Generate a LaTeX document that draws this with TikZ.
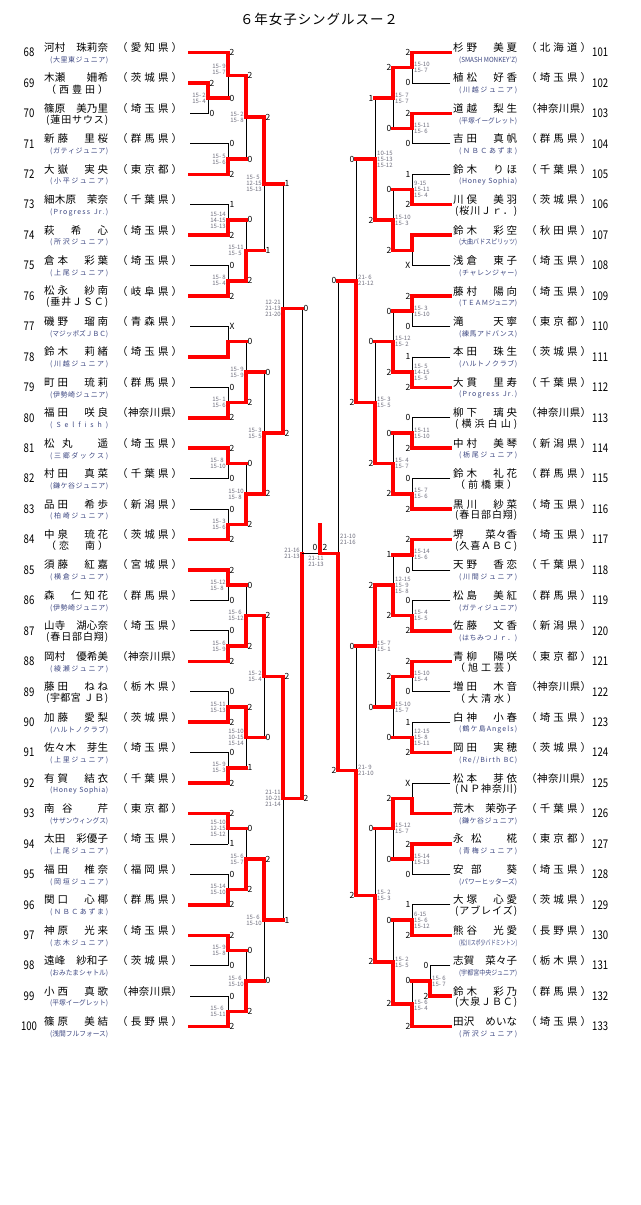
\documentclass[tikz,border=0pt]{standalone}
\usepackage{fontspec}
\usepackage{graphicx}
\setmainfont{Noto Sans CJK JP}
\usetikzlibrary{calc}

\definecolor{clubblue}{RGB}{62,72,130}
\definecolor{scogray}{RGB}{110,110,125}

\makeatletter
\protected\def\hsp{\ }
\newcommand\spreadtext[2]{\edef\spread@arg{#2}\makebox[#1][s]{\expandafter\spread@first\spread@arg\relax}}
\def\spread@first#1{\ifx\relax#1\else#1\expandafter\spread@next\fi}
\def\spread@next#1{\ifx\relax#1\else\hfill#1\expandafter\spread@next\fi}
\makeatother
\newsavebox\fitbox
\newcommand\spreadfit[2]{\sbox\fitbox{#2}\ifdim\wd\fitbox>#1\relax\resizebox{#1}{\height}{\usebox\fitbox}\else\spreadtext{#1}{#2}\fi}

\newcommand\drawbout[9]{%
  \draw[lose] (#2 -| #1) -- (#5 -| #1);
  \draw[v#3] (#2 -| #1) -- (#1);
  \draw[v#6] (#5 -| #1) -- (#1);
  \draw[h#3] (#2) -- (#2 -| #1);
  \draw[h#6] (#5) -- (#5 -| #1);
  \node[lab#9] (#1-a) at (#2 -| #1) {#4};
  \node[lab#9] (#1-b) at (#5 -| #1) {#7};
  \node[sco#9] (#1-s) at (#1) {#8};
}

\begin{document}
\begin{tikzpicture}[x=1pt,y=-1pt]
\tikzset{win/.style={draw=red, line width=3.5pt, line cap=rect},
  lose/.style={draw=black, line width=0.8pt, line cap=rect},
  hW/.style=win, hR/.style=win, hB/.style=lose,
  vW/.style=win, vR/.style={draw=none}, vB/.style={draw=none},
  labL/.style={anchor=west, xshift=1.5pt, inner sep=0pt, font=\fontsize{8.5}{9}\selectfont},
  labR/.style={anchor=east, xshift=-1.5pt, inner sep=0pt, font=\fontsize{8.5}{9}\selectfont},
  scoL/.style={anchor=east, xshift=-2pt, inner sep=0pt, align=left, text=scogray, font=\fontsize{6}{6}\selectfont},
  scoR/.style={anchor=west, xshift=2pt, inner sep=0pt, align=left, text=scogray, font=\fontsize{6}{6}\selectfont},
  pnum/.style={inner sep=0pt, font=\fontsize{12}{12}\selectfont},
  pname/.style={anchor=west, inner sep=0pt, yshift=5pt, font=\fontsize{10.5}{11}\selectfont},
  clubs/.style={anchor=west, inner sep=0pt, xshift=6pt, yshift=-7.5pt, text=clubblue, font=\fontsize{7}{7}\selectfont},
  clubb/.style={anchor=west, inner sep=0pt, xshift=2pt, yshift=-6.5pt, font=\fontsize{10}{10}\selectfont},
  headline/.style={font=\fontsize{13.5}{14}\selectfont}}

\fill[white] (0,0) rectangle (640,1205);
\useasboundingbox (0,0) rectangle (640,1205);

\foreach \nm/\xx in {xLp/208, xL1/228, xL2/246, xL3/264, xL4/283, xL5/302, xF/320,
  xR5/338, xR4/356, xR3/375, xR2/393, xR1/412, xRp/430}
  \coordinate (\nm) at (\xx,0);

\node[headline] (head) at (319,19) {\spreadtext{158pt}{６年女子シングルスー２}};

\foreach \n/\nm/\pf/\cl/\ct in {
  68/河村　珠莉奈/愛知県/(大里東ジュニア)/s, 69/木瀬　　姍希/茨城県/（西豊田）/b,
  70/篠原　美乃里/埼玉県/(蓮田サウス)/b, 71/新藤　里桜/群馬県/(ガティジュニア)/s,
  72/大嶽　実央/東京都/(小平ジュニア)/s, 73/細木原　茉奈/千葉県/(Progress\hsp Jr.)/s,
  74/萩　希　心/埼玉県/(所沢ジュニア)/s, 75/倉本　彩葉/埼玉県/(上尾ジュニア)/s,
  76/松永　紗南/岐阜県/(垂井ＪＳＣ)/b, 77/磯野　瑠南/青森県/(マジッポズＪＢＣ)/s,
  78/鈴木　莉緒/埼玉県/(川越ジュニア)/s, 79/町田　琉莉/群馬県/(伊勢崎ジュニア)/s,
  80/福田　咲良/神奈川県/(Selfish)/s, 81/松丸　遥/埼玉県/(三郷ダックス)/s,
  82/村田　真菜/千葉県/(鎌ケ谷ジュニア)/s, 83/品田　希歩/新潟県/(柏崎ジュニア)/s,
  84/中泉　琉花/茨城県/（恋　南）/b, 85/須藤　紅嘉/宮城県/(横倉ジュニア)/s,
  86/森　仁知花/群馬県/(伊勢崎ジュニア)/s, 87/山寺　湖心奈/埼玉県/(春日部白翔)/b,
  88/岡村　優希美/神奈川県/(綾瀬ジュニア)/s, 89/藤田　ねね/栃木県/(宇都宮\hsp ＪＢ)/b,
  90/加藤　愛梨/茨城県/(ハルトノクラブ)/s, 91/佐々木　芽生/埼玉県/(上里ジュニア)/s,
  92/有賀　結衣/千葉県/(Honey\hsp Sophia)/s, 93/南谷　芹/東京都/(サザンウィングス)/s,
  94/太田　彩優子/埼玉県/(上尾ジュニア)/s, 95/福田　椎奈/福岡県/(岡垣ジュニア)/s,
  96/関口　心椰/群馬県/(ＮＢＣあずま)/s, 97/神原　光来/埼玉県/(志木ジュニア)/s,
  98/遠峰　紗和子/茨城県/(おみたまシャトル)/s, 99/小西　真歌/神奈川県/(平塚イーグレット)/s,
  100/篠原　美結/長野県/(浅間フルフォース)/s}{
  \pgfmathsetmacro\yy{52.5+(\n-68)*30.44}
  \edef\clw{\if s\ct 58pt\else 62pt\fi}
  \coordinate (p\n) at (190,\yy);
  \node[pnum] (num\n) at (29,\yy) {\scalebox{0.8}[1]{\n}};
  \node[pname] (nm\n) at (44,\yy) {\spreadtext{64pt}{\nm}};
  \node[pname] (pf\n) at (117,\yy) {\spreadtext{65pt}{（\pf）}};
  \node[club\ct] (cl\n) at (44,\yy) {\spreadfit{\clw}{\cl}};
}

\foreach \n/\nm/\pf/\cl/\ct in {
  101/杉野　美夏/北海道/(SMASH\hsp MONKEY'Z)/s, 102/植松　好香/埼玉県/(川越ジュニア)/s,
  103/道越　梨生/神奈川県/(平塚イーグレット)/s, 104/吉田　真帆/群馬県/(ＮＢＣあずま)/s,
  105/鈴木　りほ/千葉県/(Honey\hsp Sophia)/s, 106/川俣　美羽/茨城県/(桜川Ｊｒ．)/b,
  107/鈴木　彩空/秋田県/(大曲バドスピリッツ)/s, 108/浅倉　東子/埼玉県/(チャレンジャー)/s,
  109/藤村　陽向/埼玉県/(ＴＥＡＭジュニア)/s, 110/滝　　天寧/東京都/(練馬アドバンス)/s,
  111/本田　珠生/茨城県/(ハルトノクラブ)/s, 112/大貫　里寿/千葉県/(Progress\hsp Jr.)/s,
  113/柳下　璃央/神奈川県/(横浜白山)/b, 114/中村　美琴/新潟県/(栃尾ジュニア)/s,
  115/鈴木　礼花/群馬県/（前橋東）/b, 116/黒川　紗菜/埼玉県/(春日部白翔)/b,
  117/堺　　菜々香/埼玉県/(久喜ＡＢＣ)/b, 118/天野　香恋/千葉県/(川間ジュニア)/s,
  119/松島　美紅/群馬県/(ガティジュニア)/s, 120/佐藤　文香/新潟県/(はちみつＪｒ．)/s,
  121/青柳　陽咲/東京都/（旭工芸）/b, 122/増田　木音/神奈川県/（大清水）/b,
  123/白神　小春/埼玉県/(鶴ケ島Angels)/s, 124/岡田　実穂/茨城県/{(Re//Birth\hsp BC)}/s,
  125/松本　芽依/神奈川県/(ＮＰ神奈川)/b, 126/荒木　茉弥子/千葉県/(鎌ケ谷ジュニア)/s,
  127/永松　椛/東京都/(青梅ジュニア)/s, 128/安部　葵/埼玉県/(パワーヒッターズ)/s,
  129/大塚　心愛/茨城県/(アブレイズ)/b, 130/熊谷　光愛/長野県/(松川スポ少バドミントン)/s,
  131/志賀　菜々子/栃木県/(宇都宮中央ジュニア)/s, 132/鈴木　彩乃/群馬県/(大泉ＪＢＣ)/b,
  133/田沢　めいな/埼玉県/(所沢ジュニア)/s}{
  \pgfmathsetmacro\yy{52.5+(\n-101)*30.44}
  \edef\clw{\if s\ct 58pt\else 62pt\fi}
  \coordinate (p\n) at (450,\yy);
  \node[pnum, anchor=west] (num\n) at (592,\yy) {\scalebox{0.8}[1]{\n}};
  \node[pname] (nm\n) at (453,\yy) {\spreadtext{64pt}{\nm}};
  \node[pname] (pf\n) at (526,\yy) {\spreadtext{65pt}{（\pf）}};
  \node[club\ct] (cl\n) at (453,\yy) {\spreadfit{\clw}{\cl}};
}

\foreach \mm/\cc/\ea/\ta/\la/\eb/\tb/\lb/\scr in {
  LaP/xLp/p69/W/2/p70/B/0/{15- 2\\15- 4},
  La1/xL1/p68/W/2/LaP/R/0/{},
  La2/xL1/p71/B/0/p72/W/2/{15- 5\\15- 6},
  La3/xL1/p73/B/1/p74/W/2/{15-14\\14-15\\15-13},
  La4/xL1/p75/B/0/p76/W/2/{15- 8\\15- 4},
  La5/xL1/p77/B/X/p78/W/{}/{},
  La6/xL1/p79/B/0/p80/W/2/{15- 1\\15- 6},
  La7/xL1/p81/W/2/p82/B/0/{15- 8\\15-10},
  La8/xL1/p83/B/0/p84/W/2/{15- 3\\15- 6},
  La9/xL1/p85/W/2/p86/B/0/{15-12\\15- 8},
  La10/xL1/p87/B/0/p88/W/2/{15- 6\\15- 9},
  La11/xL1/p89/B/0/p90/W/2/{15-11\\15-13},
  La12/xL1/p91/B/0/p92/W/2/{15- 9\\15- 3},
  La13/xL1/p93/W/2/p94/B/1/{15-10\\12-15\\15-12},
  La14/xL1/p95/B/0/p96/W/2/{15-14\\15-10},
  La15/xL1/p97/W/2/p98/B/0/{15- 9\\15- 8},
  La16/xL1/p99/B/0/p100/W/2/{15- 6\\15-11},
  Lb1/xL2/La1/W/2/La2/R/0/{15- 2\\15- 8},
  Lb2/xL2/La3/R/0/La4/W/2/{15-11\\15- 5},
  Lb3/xL2/La5/R/0/La6/W/2/{15- 9\\15- 9},
  Lb4/xL2/La7/R/0/La8/W/2/{15-10\\15- 8},
  Lb5/xL2/La9/R/0/La10/W/2/{15- 6\\15-12},
  Lb6/xL2/La11/W/2/La12/R/1/{15-10\\10-15\\15-14},
  Lb7/xL2/La13/R/0/La14/W/2/{15- 6\\15- 7},
  Lb8/xL2/La15/R/0/La16/W/2/{15- 6\\15-10},
  Lc1/xL3/Lb1/W/2/Lb2/R/1/{15- 5\\12-15\\15-13},
  Lc2/xL3/Lb3/R/0/Lb4/W/2/{15- 3\\15- 5},
  Lc3/xL3/Lb5/W/2/Lb6/R/0/{15- 2\\15- 4},
  Lc4/xL3/Lb7/W/2/Lb8/R/0/{15- 6\\15-10},
  Ld1/xL4/Lc1/R/1/Lc2/W/2/{12-21\\21-13\\21-20},
  Ld2/xL4/Lc3/W/2/Lc4/R/1/{21-11\\10-21\\21-14},
  Le1/xL5/Ld1/R/0/Ld2/W/2/{21-16\\21-13}}{
  \coordinate (t) at ($(\ea)!.5!(\eb)$);
  \coordinate (\mm) at (t -| \cc);
  \edef\doit{\noexpand\drawbout{\mm}{\ea}{\ta}{\la}{\eb}{\tb}{\lb}{\unexpanded\expandafter{\scr}}{L}}\doit
}
\node[scoL, yshift=5.5pt] (La1-t) at (La1) {15- 9\\15- 7};

\foreach \mm/\cc/\ea/\ta/\la/\eb/\tb/\lb/\scr in {
  RaP/xRp/p131/B/0/p132/W/2/{15- 6\\15- 7},
  Ra1/xR1/p101/W/2/p102/B/0/{15-10\\15- 7},
  Ra2/xR1/p103/W/2/p104/B/0/{15-11\\15- 6},
  Ra3/xR1/p105/B/1/p106/W/2/{ 9-15\\15-11\\15- 4},
  Ra4/xR1/p107/W/{}/p108/B/X/{},
  Ra5/xR1/p109/W/2/p110/B/0/{15- 3\\15-10},
  Ra6/xR1/p111/B/1/p112/W/2/{15- 5\\14-15\\15- 5},
  Ra7/xR1/p113/B/0/p114/W/2/{15-11\\15-10},
  Ra8/xR1/p115/B/0/p116/W/2/{15- 7\\15- 6},
  Ra9/xR1/p117/W/2/p118/B/0/{15-14\\15- 6},
  Ra10/xR1/p119/B/0/p120/W/2/{15- 4\\15- 5},
  Ra11/xR1/p121/W/2/p122/B/0/{15-10\\15- 4},
  Ra12/xR1/p123/B/1/p124/W/2/{12-15\\15- 8\\15-11},
  Ra13/xR1/p125/B/X/p126/W/{}/{},
  Ra14/xR1/p127/W/2/p128/B/0/{15-14\\15-13},
  Ra15/xR1/p129/B/1/p130/W/2/{ 6-15\\15- 6\\15-12},
  Ra16/xR1/RaP/R/0/p133/W/2/{},
  Rb1/xR2/Ra1/W/2/Ra2/R/0/{15- 7\\15- 7},
  Rb2/xR2/Ra3/R/0/Ra4/W/2/{15-10\\15- 3},
  Rb3/xR2/Ra5/R/0/Ra6/W/2/{15-12\\15- 2},
  Rb4/xR2/Ra7/R/0/Ra8/W/2/{15- 4\\15- 7},
  Rb5/xR2/Ra9/R/1/Ra10/W/2/{12-15\\15- 9\\15- 8},
  Rb6/xR2/Ra11/W/2/Ra12/R/0/{15-10\\15- 7},
  Rb7/xR2/Ra13/W/2/Ra14/R/0/{15-12\\15- 7},
  Rb8/xR2/Ra15/R/0/Ra16/W/2/{15- 2\\15- 5},
  Rc1/xR3/Rb1/R/1/Rb2/W/2/{10-15\\15-13\\15-12},
  Rc2/xR3/Rb3/R/0/Rb4/W/2/{15- 3\\15- 5},
  Rc3/xR3/Rb5/W/2/Rb6/R/0/{15- 7\\15- 1},
  Rc4/xR3/Rb7/R/0/Rb8/W/2/{15- 2\\15- 3},
  Rd1/xR4/Rc1/R/0/Rc2/W/2/{21- 6\\21-12},
  Rd2/xR4/Rc3/R/0/Rc4/W/2/{21- 9\\21-10}}{
  \coordinate (t) at ($(\ea)!.5!(\eb)$);
  \coordinate (\mm) at (t -| \cc);
  \edef\doit{\noexpand\drawbout{\mm}{\ea}{\ta}{\la}{\eb}{\tb}{\lb}{\unexpanded\expandafter{\scr}}{R}}\doit
}
\node[scoR, yshift=-2pt] (Ra16-t) at (Ra16) {15- 6\\15- 4};

\coordinate (Re1) at (Le1 -| xR5);
\drawbout{Re1}{Rd1}{R}{0}{Rd2}{W}{2}{}{R}
\node[scoR, yshift=14pt] (Re1-t) at (Re1) {21-10\\21-16};

\coordinate (fin) at (Le1 -| xF);
\coordinate (champ) at (320,524.5);
\draw[lose] (Le1) -- (fin);
\draw[win] (Re1) -- (fin);
\draw[win] (fin) -- (champ);
\node[labL, anchor=south east, xshift=-4pt, yshift=2.5pt] (fin-a) at (fin) {0};
\node[labR, anchor=south west, xshift=4pt, yshift=2.5pt] (fin-b) at (fin) {2};
\node[scoL, anchor=north, xshift=-2pt, yshift=-3pt] (fin-s) at (fin) {21-11\\21-13};
\end{tikzpicture}
\end{document}
